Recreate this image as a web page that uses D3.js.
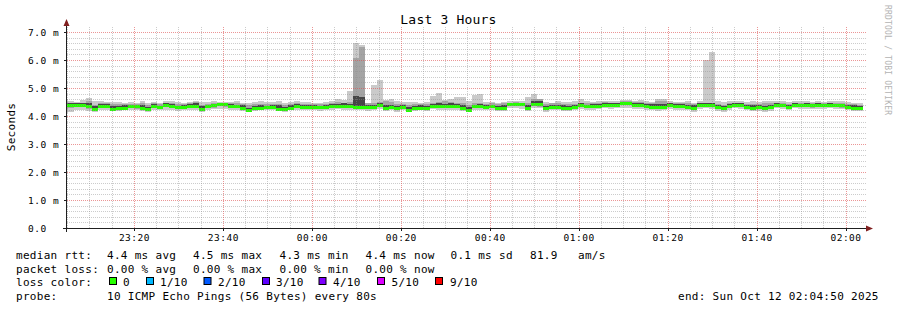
<!DOCTYPE html>
<html>
<head>
<meta charset="utf-8">
<script src="https://cdn.jsdelivr.net/npm/d3@7/dist/d3.min.js"></script>
<style>
  html, body { margin: 0; padding: 0; background: #fff; }
  svg { display: block; font-family: "DejaVu Sans Mono", monospace; }
</style>
</head>
<body>
<svg id="chart" width="897" height="310"></svg>
<script>
// ---- data (values in ms) ----
const chartTitle = "Last 3 Hours";
const startTime = new Date(2025, 9, 11, 23, 4, 50);
const endTime = new Date(2025, 9, 12, 2, 4, 50);
const firstStep = new Date(2025, 9, 11, 23, 3, 55);
const stepSeconds = 80;

const median = [
  4.41,4.41,4.41,4.40,4.36,4.25,4.36,4.36,4.25,4.30,
  4.30,4.34,4.34,4.30,4.26,4.34,4.31,4.41,4.34,4.31,
  4.31,4.36,4.35,4.26,4.34,4.38,4.42,4.42,4.37,4.37,
  4.30,4.23,4.30,4.30,4.33,4.33,4.26,4.26,4.30,4.34,
  4.33,4.33,4.31,4.31,4.31,4.34,4.37,4.37,4.37,4.32,
  4.32,4.31,4.31,4.41,4.30,4.33,4.27,4.31,4.23,4.30,
  4.30,4.27,4.37,4.37,4.34,4.37,4.37,4.30,4.23,4.34,
  4.34,4.31,4.34,4.28,4.28,4.43,4.43,4.43,4.30,4.43,
  4.43,4.27,4.33,4.33,4.30,4.30,4.32,4.40,4.34,4.34,
  4.36,4.40,4.40,4.40,4.47,4.47,4.40,4.40,4.37,4.33,
  4.33,4.33,4.40,4.36,4.36,4.33,4.28,4.40,4.40,4.40,
  4.32,4.27,4.36,4.40,4.40,4.33,4.29,4.31,4.27,4.31,
  4.40,4.40,4.33,4.40,4.40,4.40,4.38,4.38,4.40,4.40,
  4.38,4.38,4.33,4.30,4.30
];

// slowest / fastest ping of each round (outer smoke)
const pingMax = [
  4.60,4.52,4.50,4.56,4.63,4.55,4.54,4.50,4.50,4.50,
  4.48,4.49,4.48,4.52,4.47,4.50,4.48,4.53,4.55,4.49,
  4.47,4.50,4.54,4.51,4.50,4.52,4.50,4.49,4.50,4.52,
  4.47,4.46,4.50,4.53,4.50,4.49,4.52,4.48,4.50,4.53,
  4.49,4.50,4.47,4.48,4.50,4.52,4.60,4.58,4.89,6.60,
  6.55,4.48,5.10,5.29,4.57,4.60,4.52,4.50,4.50,4.49,
  4.48,4.50,4.71,4.83,4.58,4.62,4.67,4.67,4.53,4.75,
  4.79,4.50,4.49,4.48,4.50,4.52,4.55,4.52,4.69,4.79,
  4.62,4.50,4.48,4.55,4.51,4.49,4.52,4.62,4.53,4.50,
  4.52,4.55,4.54,4.52,4.57,4.57,4.55,4.56,4.53,4.50,
  4.60,4.60,4.54,4.50,4.51,4.52,4.48,4.55,6.00,6.30,
  4.52,4.50,4.53,4.55,4.52,4.50,4.53,4.51,4.55,4.54,
  4.53,4.52,4.50,4.54,4.52,4.53,4.50,4.53,4.51,4.54,
  4.52,4.53,4.50,4.48,4.47
];
const pingMin = [
  4.12,4.15,4.22,4.20,4.18,4.15,4.20,4.22,4.17,4.18,
  4.20,4.22,4.20,4.18,4.16,4.20,4.22,4.23,4.21,4.18,
  4.20,4.22,4.21,4.16,4.20,4.24,4.26,4.24,4.22,4.22,
  4.18,4.14,4.18,4.20,4.22,4.21,4.17,4.16,4.20,4.22,
  4.21,4.22,4.20,4.19,4.21,4.22,4.24,4.23,4.22,4.20,
  4.21,4.19,4.20,4.24,4.18,4.21,4.16,4.20,4.14,4.19,
  4.20,4.17,4.24,4.22,4.21,4.23,4.22,4.18,4.13,4.22,
  4.21,4.20,4.22,4.17,4.18,4.28,4.27,4.26,4.19,4.28,
  4.27,4.16,4.21,4.22,4.18,4.19,4.20,4.26,4.22,4.21,
  4.24,4.27,4.26,4.27,4.30,4.30,4.26,4.24,4.22,4.20,
  4.19,4.21,4.26,4.22,4.23,4.20,4.16,4.26,4.27,4.26,
  4.19,4.15,4.22,4.27,4.25,4.20,4.17,4.19,4.15,4.19,
  4.27,4.26,4.20,4.27,4.26,4.26,4.24,4.25,4.26,4.27,
  4.25,4.24,4.20,4.17,4.18
];

// 2nd and 9th ping
const ping9 = [
  4.50,4.48,4.47,4.48,4.54,4.40,4.48,4.46,4.42,4.42,
  4.42,4.44,4.44,4.45,4.40,4.45,4.42,4.48,4.46,4.43,
  4.42,4.46,4.50,4.41,4.44,4.47,4.48,4.47,4.46,4.47,
  4.42,4.38,4.43,4.44,4.44,4.44,4.42,4.40,4.42,4.46,
  4.44,4.44,4.42,4.43,4.43,4.45,4.50,4.48,4.50,6.07,
  6.45,4.45,4.46,4.50,4.55,4.50,4.44,4.44,4.40,4.42,
  4.42,4.42,4.48,4.50,4.55,4.50,4.48,4.45,4.40,4.46,
  4.46,4.44,4.45,4.42,4.45,4.48,4.50,4.48,4.45,4.60,
  4.62,4.42,4.45,4.47,4.44,4.42,4.44,4.48,4.46,4.45,
  4.46,4.49,4.48,4.48,4.52,4.52,4.50,4.50,4.48,4.46,
  4.55,4.55,4.48,4.46,4.46,4.46,4.42,4.48,4.48,4.48,
  4.44,4.40,4.46,4.48,4.48,4.44,4.43,4.44,4.45,4.45,
  4.48,4.47,4.44,4.48,4.47,4.48,4.46,4.47,4.47,4.48,
  4.46,4.47,4.44,4.42,4.40
];
const ping2 = [
  4.25,4.30,4.32,4.31,4.26,4.20,4.28,4.30,4.20,4.24,
  4.24,4.27,4.26,4.24,4.20,4.27,4.26,4.32,4.27,4.24,
  4.25,4.28,4.27,4.20,4.27,4.30,4.34,4.33,4.30,4.29,
  4.24,4.18,4.24,4.25,4.27,4.26,4.21,4.20,4.24,4.27,
  4.26,4.27,4.25,4.25,4.26,4.28,4.30,4.29,4.30,4.26,
  4.26,4.25,4.26,4.32,4.24,4.26,4.21,4.25,4.18,4.24,
  4.24,4.21,4.29,4.29,4.27,4.29,4.29,4.24,4.18,4.27,
  4.27,4.25,4.27,4.22,4.22,4.35,4.34,4.34,4.24,4.34,
  4.33,4.21,4.26,4.27,4.23,4.24,4.26,4.33,4.27,4.27,
  4.29,4.33,4.32,4.33,4.38,4.38,4.32,4.31,4.29,4.26,
  4.25,4.26,4.32,4.28,4.29,4.26,4.21,4.32,4.33,4.32,
  4.25,4.20,4.28,4.33,4.31,4.26,4.22,4.24,4.20,4.24,
  4.33,4.32,4.26,4.33,4.32,4.33,4.30,4.31,4.32,4.33,
  4.31,4.30,4.26,4.22,4.23
];

// 4th and 7th ping
const ping7 = [
  4.47,4.45,4.45,4.46,4.47,4.36,4.44,4.43,4.37,4.37,
  4.39,4.38,4.41,4.40,4.33,4.42,4.36,4.45,4.43,4.36,
  4.38,4.43,4.46,4.36,4.40,4.44,4.46,4.45,4.43,4.41,
  4.39,4.30,4.36,4.41,4.37,4.41,4.38,4.33,4.39,4.43,
  4.41,4.38,4.39,4.36,4.40,4.42,4.44,4.45,4.44,4.70,
  4.68,4.40,4.38,4.47,4.40,4.41,4.36,4.38,4.33,4.37,
  4.38,4.37,4.44,4.46,4.42,4.45,4.42,4.39,4.31,4.41,
  4.42,4.40,4.39,4.37,4.38,4.46,4.47,4.46,4.40,4.52,
  4.55,4.36,4.41,4.39,4.39,4.36,4.40,4.46,4.40,4.42,
  4.43,4.46,4.45,4.46,4.50,4.50,4.47,4.46,4.44,4.42,
  4.44,4.42,4.46,4.43,4.44,4.40,4.38,4.46,4.45,4.46,
  4.40,4.36,4.43,4.46,4.45,4.41,4.38,4.40,4.37,4.39,
  4.46,4.44,4.41,4.46,4.44,4.46,4.43,4.45,4.44,4.46,
  4.44,4.43,4.41,4.39,4.37
];
const ping4 = [
  4.33,4.35,4.36,4.34,4.29,4.22,4.31,4.32,4.22,4.26,
  4.26,4.29,4.30,4.26,4.22,4.29,4.28,4.35,4.29,4.26,
  4.27,4.31,4.29,4.22,4.29,4.33,4.37,4.36,4.32,4.31,
  4.26,4.20,4.26,4.27,4.29,4.28,4.23,4.22,4.26,4.29,
  4.28,4.29,4.27,4.27,4.28,4.30,4.32,4.32,4.32,4.28,
  4.28,4.27,4.28,4.35,4.26,4.28,4.23,4.27,4.20,4.26,
  4.26,4.23,4.32,4.31,4.29,4.32,4.31,4.26,4.20,4.29,
  4.29,4.27,4.29,4.24,4.24,4.37,4.37,4.36,4.26,4.37,
  4.36,4.23,4.28,4.30,4.25,4.26,4.28,4.35,4.29,4.30,
  4.31,4.35,4.35,4.35,4.41,4.40,4.35,4.34,4.31,4.28,
  4.27,4.28,4.35,4.30,4.31,4.28,4.23,4.35,4.35,4.34,
  4.27,4.22,4.30,4.35,4.34,4.28,4.24,4.26,4.22,4.26,
  4.35,4.35,4.28,4.35,4.34,4.35,4.32,4.33,4.35,4.35,
  4.33,4.32,4.28,4.24,4.25
];

const yMajorTicks = [0, 1, 2, 3, 4, 5, 6, 7];
const yTickLabels = ["0.0", "1.0 m", "2.0 m", "3.0 m", "4.0 m", "5.0 m", "6.0 m", "7.0 m"];
const yLabel = "Seconds";

const rttStats = ["4.4 ms avg", "4.5 ms max", "4.3 ms min", "4.4 ms now", "0.1 ms sd", "81.9", "am/s"];
const lossStats = ["0.00 % avg", "0.00 % max", "0.00 % min", "0.00 % now"];
const lossLabels = ["0", "1/10", "2/10", "3/10", "4/10", "5/10", "9/10"];
const lossColors = ["#26ff00", "#00b8ff", "#0059ff", "#5e00ff", "#7e00ff", "#dd00ff", "#ff0000"];
const probeText = "10 ICMP Echo Pings (56 Bytes) every 80s";
const endText = "end: Sun Oct 12 02:04:50 2025";
const watermark = "RRDTOOL / TOBI OETIKER";

// ---- layout ----
const plot = { left: 66.5, right: 867, top: 26, bottom: 228 };

const svg = d3.select("#chart");
svg.append("rect").attr("width", 897).attr("height", 310).attr("fill", "#fff");

const x = d3.scaleTime().domain([startTime, endTime]).range([plot.left, plot.right]);
const y = d3.scaleLinear().domain([0, 7.2]).range([plot.bottom, plot.bottom - 7.2 * 28]);

const steps = median.map((m, i) => ({
  t0: new Date(firstStep.getTime() + i * stepSeconds * 1000),
  t1: new Date(firstStep.getTime() + (i + 1) * stepSeconds * 1000),
  med: m,
  p1: pingMin[i], p10: pingMax[i],
  p2: ping2[i], p9: ping9[i],
  p4: ping4[i], p7: ping7[i]
}));

svg.append("clipPath").attr("id", "plotClip")
  .append("rect")
  .attr("x", 67).attr("y", plot.top)
  .attr("width", plot.right - 67).attr("height", plot.bottom - plot.top);

const g = svg.append("g").attr("clip-path", "url(#plotClip)");

// smoke bands, outer to inner (SmokePing shading)
const bands = [
  { lo: "p1", hi: "p10", color: "#cacaca" },
  { lo: "p2", hi: "p9", color: "#a4a4a4" },
  { lo: "p4", hi: "p7", color: "#464646" }
];
bands.forEach(b => {
  g.append("g").attr("shape-rendering", "crispEdges")
    .selectAll("rect").data(steps).enter().append("rect")
    .attr("x", d => Math.round(x(d.t0)))
    .attr("width", d => Math.round(x(d.t1)) - Math.round(x(d.t0)))
    .attr("y", d => Math.round(y(d[b.hi])))
    .attr("height", d => Math.max(1, Math.round(y(d[b.lo])) - Math.round(y(d[b.hi]))))
    .attr("fill", b.color);
});

// median line, coloured by loss (0 loss everywhere)
g.append("g").attr("shape-rendering", "crispEdges")
  .selectAll("rect").data(steps).enter().append("rect")
  .attr("x", d => Math.round(x(d.t0)))
  .attr("width", d => Math.round(x(d.t1)) - Math.round(x(d.t0)))
  .attr("y", d => Math.round(y(d.med)) - 1)
  .attr("height", 3)
  .attr("fill", lossColors[0]);

// ---- grid (drawn over the data, like rrdtool) ----
const grid = svg.append("g").attr("shape-rendering", "crispEdges");
const yMinor = d3.range(0, 36).map(k => k * 0.2).filter(v => Math.abs(v - Math.round(v)) > 0.01);
const xMinor = d3.timeMinute.every(5).range(startTime, endTime)
  .filter(t => t.getMinutes() % 20 !== 0);
const xMajor = d3.timeMinute.every(20).range(startTime, endTime);

grid.selectAll(".ymin").data(yMinor).enter().append("line")
  .attr("x1", 67).attr("x2", plot.right)
  .attr("y1", d => Math.round(y(d)) + 0.5).attr("y2", d => Math.round(y(d)) + 0.5)
  .attr("stroke", "#8f8f8f").attr("stroke-opacity", 0.45).attr("stroke-dasharray", "1,1");
grid.selectAll(".xmin").data(xMinor).enter().append("line")
  .attr("x1", d => Math.round(x(d)) + 0.5).attr("x2", d => Math.round(x(d)) + 0.5)
  .attr("y1", plot.bottom).attr("y2", plot.top)
  .attr("stroke", "#8f8f8f").attr("stroke-opacity", 0.45).attr("stroke-dasharray", "1,1");
grid.selectAll(".ymaj").data(yMajorTicks.slice(1)).enter().append("line")
  .attr("x1", 67).attr("x2", plot.right)
  .attr("y1", d => Math.round(y(d)) + 0.5).attr("y2", d => Math.round(y(d)) + 0.5)
  .attr("stroke", "#de5050").attr("stroke-opacity", 0.6).attr("stroke-dasharray", "1,1");
grid.selectAll(".xmaj").data(xMajor).enter().append("line")
  .attr("x1", d => Math.round(x(d)) + 0.5).attr("x2", d => Math.round(x(d)) + 0.5)
  .attr("y1", plot.bottom).attr("y2", plot.top)
  .attr("stroke", "#de5050").attr("stroke-opacity", 0.6).attr("stroke-dasharray", "1,1");

// small ticks on the axes
grid.selectAll(".ytick").data(yMajorTicks).enter().append("line")
  .attr("x1", 64).attr("x2", 67)
  .attr("y1", d => Math.round(y(d)) + 0.5).attr("y2", d => Math.round(y(d)) + 0.5)
  .attr("stroke", "#1f1f1f");
grid.selectAll(".xtick").data(xMajor).enter().append("line")
  .attr("x1", d => Math.round(x(d)) + 0.5).attr("x2", d => Math.round(x(d)) + 0.5)
  .attr("y1", 228).attr("y2", 231)
  .attr("stroke", "#1f1f1f");

// axes + arrows
grid.append("line").attr("x1", 63).attr("x2", 869).attr("y1", 228.5).attr("y2", 228.5)
  .attr("stroke", "#1f1f1f");
grid.append("line").attr("x1", 66.5).attr("x2", 66.5).attr("y1", 232).attr("y2", 24)
  .attr("stroke", "#1f1f1f");
svg.append("path").attr("d", "M866,225.5 L873,228.5 L866,231.5 Z").attr("fill", "#801f1f");
svg.append("path").attr("d", "M63.5,26 L66.5,19 L69.5,26 Z").attr("fill", "#801f1f");

// ---- tick labels ----
svg.append("g").selectAll("text").data(yMajorTicks).enter().append("text")
  .attr("x", 28).attr("y", d => y(d) + 3.5)
  .attr("font-size", "9.5px").attr("letter-spacing", "0.5px").attr("fill", "#000")
  .text((d, i) => yTickLabels[i]);

svg.append("g").selectAll("text").data(xMajor).enter().append("text")
  .attr("x", d => x(d) + 0.5).attr("y", 241).attr("text-anchor", "middle")
  .attr("font-size", "9.5px").attr("letter-spacing", "0.5px").attr("fill", "#000")
  .text(d3.timeFormat("%H:%M"));

// title, axis label, watermark
svg.append("text").attr("x", 448.5).attr("y", 24).attr("text-anchor", "middle")
  .attr("font-size", "13px").attr("letter-spacing", "0.2px").text(chartTitle);
svg.append("text").attr("transform", "translate(14.5,127) rotate(-90)")
  .attr("text-anchor", "middle").attr("font-size", "11px").attr("letter-spacing", "0.3px")
  .text(yLabel);
svg.append("text").attr("transform", "translate(884.5,5) rotate(90)")
  .attr("font-size", "8px").attr("letter-spacing", "0.2px").attr("fill", "#b3b3b3")
  .text(watermark);

// ---- legend ----
const leg = svg.append("g").attr("font-size", "11px").attr("letter-spacing", "0.3px").attr("fill", "#000");
const rowY = [259, 272.5, 286, 299.5];
function legText(tx, ty, s) {
  leg.append("text").attr("x", tx).attr("y", ty).attr("xml:space", "preserve").text(s);
}
legText(16, rowY[0], "median rtt:");
[107, 193, 279.5, 365.5, 450.5, 530, 578].forEach((px, i) => legText(px, rowY[0], rttStats[i]));
legText(16, rowY[1], "packet loss:");
[107, 193, 279.5, 365.5].forEach((px, i) => legText(px, rowY[1], lossStats[i]));
legText(16, rowY[2], "loss color:");
const swatchX = [109, 146, 203.5, 262, 318.5, 377, 435];
const swatchTextX = [123, 160, 218, 276, 333, 391.5, 450];
lossLabels.forEach((lab, i) => {
  leg.append("rect").attr("x", swatchX[i] + 0.5).attr("y", 277.5)
    .attr("width", 7).attr("height", 7)
    .attr("fill", lossColors[i]).attr("stroke", "#000").attr("stroke-width", 1);
  legText(swatchTextX[i], rowY[2], lab);
});
legText(16, rowY[3], "probe:");
legText(107, rowY[3], probeText);
legText(678, rowY[3], endText);
</script>
</body>
</html>
